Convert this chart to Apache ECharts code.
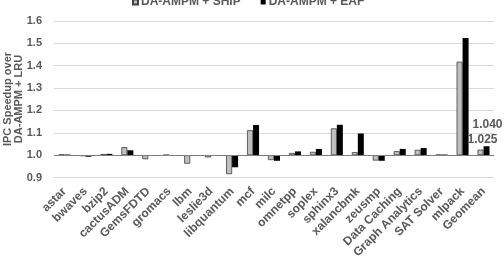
<!DOCTYPE html>
<html lang="en">
<head>
  <meta charset="UTF-8">
  <title>IPC Speedup</title>
  <script src="https://cdn.jsdelivr.net/npm/echarts@6.0.0/dist/echarts.min.js"></script>
  <style>body{margin:0;background:#fff}</style>
</head>
<body>
  <div id="main" style="width:504px;height:261px;"></div>

  <script type="text/javascript">
    // Data
    let categories = ['astar', 'bwaves', 'bzip2', 'cactusADM', 'GemsFDTD', 'gromacs', 'lbm', 'leslie3d',
      'libquantum', 'mcf', 'milc', 'omnetpp', 'soplex', 'sphinx3', 'xalancbmk', 'zeusmp',
      'Data Caching', 'Graph Analytics', 'SAT Solver', 'mlpack', 'Geomean'];
    let shipValues = [1.003, 0.996, 1.005, 1.036, 0.982, 1.001, 0.962, 0.990, 0.915, 1.112, 0.978,
      1.010, 1.015, 1.120, 1.014, 0.976, 1.018, 1.024, 1.002, 1.418, 1.025];
    let eafValues = [1.003, 0.993, 1.006, 1.022, 0.998, 1.001, 0.999, 0.997, 0.946, 1.135, 0.975,
      1.017, 1.028, 1.136, 1.097, 0.975, 1.028, 1.032, 1.003, 1.524, 1.040];
    let yTicks = [0.9, 1.0, 1.1, 1.2, 1.3, 1.4, 1.5, 1.6];

    const baseline = 1.0;
    const font = 'Liberation Sans, Arial, sans-serif';
    const textColor = '#595959';

    let myChart = echarts.init(document.getElementById('main'));

    // bars grow from 1.0, so plot the offset from the baseline
    function toBars(values, labelOffset) {
      return values.map((v, i) => {
        let item = { value: +(v - baseline).toFixed(4) };
        if (categories[i] === 'Geomean') {
          item.label = {
            show: true, position: 'top', offset: labelOffset,
            formatter: v.toFixed(3), fontFamily: font, fontWeight: 'bold',
            fontSize: 12, color: textColor
          };
        }
        return item;
      });
    }

    let options = {
      animation: false,
      textStyle: { fontFamily: font },
      legend: {
        top: -9,
        left: 127,
        itemGap: 20,
        itemWidth: 5,
        itemHeight: 5,
        textStyle: { fontFamily: font, fontWeight: 'bold', fontSize: 12, color: textColor, padding: [0, 0, 0, -2] },
        data: [
          { name: 'DA-AMPM + SHIP', icon: 'rect' },
          { name: 'DA-AMPM + EAF', icon: 'rect' }
        ]
      },
      grid: { left: 54, right: 10, top: 21, bottom: 74 },
      graphic: [{
        type: 'text',
        x: 13, y: 99,
        rotation: Math.PI / 2,
        style: {
          text: 'IPC Speedup over\nDA-AMPM + LRU',
          align: 'center', verticalAlign: 'middle',
          font: 'bold 11px ' + font, fill: textColor, lineHeight: 11
        }
      }],
      xAxis: {
        type: 'category',
        data: categories,
        axisLine: { show: false },
        axisTick: { show: false },
        axisLabel: {
          rotate: 45, interval: 0, margin: 12,
          fontFamily: font, fontWeight: 'bold', fontSize: 12, color: textColor
        }
      },
      yAxis: {
        type: 'value',
        min: yTicks[0] - baseline,
        max: yTicks[yTicks.length - 1] - baseline,
        interval: 0.1,
        axisLabel: {
          margin: 12, fontFamily: font, fontWeight: 'bold', fontSize: 11, color: textColor,
          formatter: (v) => (v + baseline).toFixed(1)
        },
        splitLine: { lineStyle: { color: '#d9d9d9', width: 1 } }
      },
      series: [{
        name: 'DA-AMPM + SHIP',
        type: 'bar',
        barWidth: 6,
        barGap: '0%',
        itemStyle: { color: '#bfbfbf', borderColor: '#404040', borderWidth: 0.8 },
        data: toBars(shipValues, [2, 1]),
        markLine: {
          silent: true, symbol: 'none', label: { show: false },
          lineStyle: { color: '#7f7f7f', type: 'solid', width: 1 },
          data: [{ yAxis: 0 }]
        }
      }, {
        name: 'DA-AMPM + EAF',
        type: 'bar',
        barWidth: 6,
        itemStyle: { color: '#000000' },
        data: toBars(eafValues, [1, -11])
      }]
    };

    myChart.setOption(options);
  </script>
</body>
</html>
